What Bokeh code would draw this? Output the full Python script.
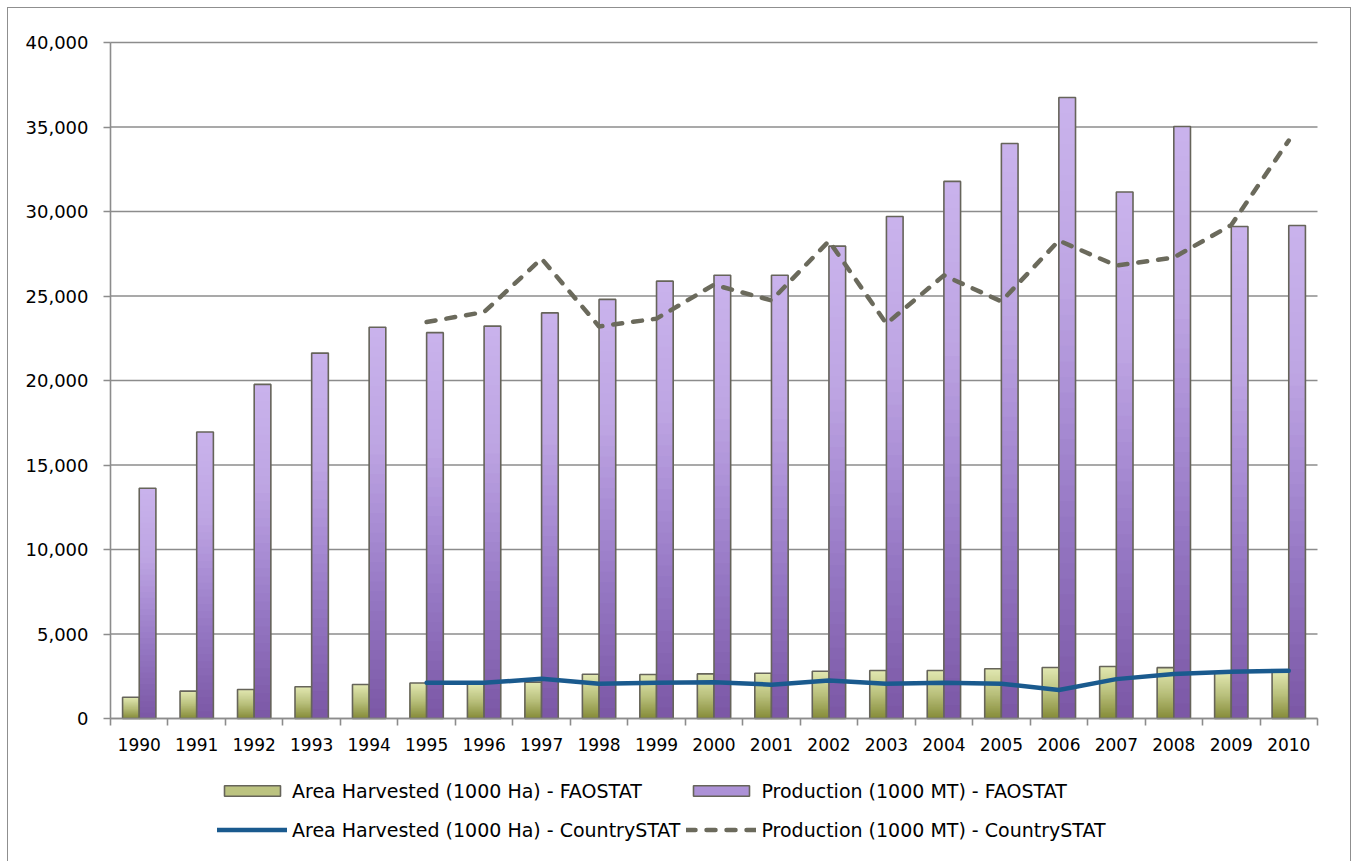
import numpy as np
from bokeh.plotting import figure
from bokeh.models import (ColumnDataSource, Range1d, FixedTicker, NumeralTickFormatter,
                          Legend, LegendItem, InlineStyleSheet)
from bokeh.embed import file_html
from bokeh.resources import INLINE

# ---- data -------------------------------------------------------------
years = list(range(1990, 2011))
area_fao = [1260, 1620, 1720, 1880, 2010, 2100, 2080, 2150, 2620, 2600, 2640,
            2680, 2800, 2840, 2840, 2940, 3020, 3080, 3010, 2750, 2790]
prod_fao = [13620, 16950, 19770, 21620, 23150, 22830, 23220, 24000, 24800, 25880, 26230,
            26230, 27950, 29700, 31780, 34020, 36750, 31150, 35030, 29110, 29170]

cs_years = list(range(1995, 2011))
area_cs = [2110, 2110, 2350, 2060, 2110, 2150, 2000, 2250, 2060, 2110, 2060,
           1690, 2330, 2630, 2770, 2830]
prod_cs = [23460, 24050, 27210, 23200, 23660, 25670, 24740, 28250, 23360, 26220, 24680,
           28280, 26800, 27280, 29200, 34200]

y_ticks = [0, 5000, 10000, 15000, 20000, 25000, 30000, 35000, 40000]

labels = ["Area Harvested (1000 Ha) - FAOSTAT", "Production (1000 MT) - FAOSTAT",
          "Area Harvested (1000 Ha) - CountrySTAT", "Production (1000 MT) - CountrySTAT"]

# ---- layout (pixels) ----------------------------------------------------
W, H = 1351, 861
PLOT_L, PLOT_R, PLOT_T, PLOT_B = 110, 1317, 42, 718   # value area inside the canvas

FONT = "DejaVu Sans"
BAR_W = 0.29
N_STEPS = 40
LEGEND_INDEX = 18

green_stops = [(0.0, "#858b38"), (0.5, "#b9c07c"), (1.0, "#e2e8b2")]
purple_stops = [(0.0, "#7b57a5"), (0.3, "#9476c2"), (0.5, "#a98dd4"),
                (0.7, "#bea5e3"), (1.0, "#c9b3ec")]


def _rgb(h):
    h = h.lstrip("#")
    return np.array([int(h[i:i + 2], 16) for i in (0, 2, 4)], dtype=float)


def ramp(stops, t):
    pos = [s[0] for s in stops]
    cols = np.array([_rgb(s[1]) for s in stops])
    out = [np.interp(t, pos, cols[:, c]) for c in range(3)]
    return "#%02x%02x%02x" % tuple(int(round(v)) for v in out)


def gradient_source(xs, values, stops):
    """Overlapping rectangles, tallest (lightest) first, shading each bar top to bottom."""
    left, right, top, color = [], [], [], []
    for x, v in zip(xs, values):
        for k in range(N_STEPS):
            frac_top = (N_STEPS - k) / N_STEPS
            t = (N_STEPS - k - 0.5) / N_STEPS
            left.append(x - BAR_W / 2)
            right.append(x + BAR_W / 2)
            top.append(v * frac_top)
            color.append(ramp(stops, t))
    return ColumnDataSource(dict(left=left, right=right, top=top,
                                 bottom=[0] * len(top), color=color))


# value ranges of the category / value area, stretched so the frame fills the canvas
x_lo, x_hi = years[0] - 0.5, years[-1] + 0.5
y_lo, y_hi = y_ticks[0], y_ticks[-1]
sx = (PLOT_R - PLOT_L) / (x_hi - x_lo)
sy = (PLOT_B - PLOT_T) / (y_hi - y_lo)
x_range = Range1d(x_lo - PLOT_L / sx, x_hi + (W - PLOT_R) / sx)
y_range = Range1d(y_lo - (H - PLOT_B) / sy, y_hi + PLOT_T / sy)

# thin grey frame around the whole chart, painted on the page behind the canvas
chart_frame_css = InlineStyleSheet(css="""
:host {
  background:
    linear-gradient(#8f8f8f, #8f8f8f) 7px 7px / 1344px 1px no-repeat,
    linear-gradient(#8f8f8f, #8f8f8f) 7px 7px / 1px 900px no-repeat,
    linear-gradient(#8f8f8f, #8f8f8f) 1350px 7px / 1px 900px no-repeat,
    #ffffff;
}
""")

p = figure(width=W, height=H, output_backend="svg", toolbar_location=None,
           x_range=x_range, y_range=y_range, min_border=0,
           min_border_left=0, min_border_right=0, min_border_top=0, min_border_bottom=0,
           background_fill_color=None, border_fill_color=None)
p.stylesheets = [chart_frame_css]
p.outline_line_color = None
p.xgrid.visible = False
p.ygrid.visible = False

# horizontal grid lines across the category span
p.segment(x0=[x_lo] * len(y_ticks), x1=[x_hi] * len(y_ticks), y0=y_ticks, y1=y_ticks,
          line_color="#8c8c8c", line_width=1.6)

# ---- bars ---------------------------------------------------------------
green_x = [y - BAR_W / 2 for y in years]
purple_x = [y + BAR_W / 2 for y in years]

g_src = gradient_source(green_x, area_fao, green_stops)
p_src = gradient_source(purple_x, prod_fao, purple_stops)

g_fill = p.quad(left="left", right="right", top="top", bottom="bottom", source=g_src,
                fill_color="color", line_color=None)
g_edge = p.vbar(x=green_x, top=area_fao, width=BAR_W, fill_color=None,
                line_color="#66645a", line_width=1.6)
pu_fill = p.quad(left="left", right="right", top="top", bottom="bottom", source=p_src,
                 fill_color="color", line_color=None)
pu_edge = p.vbar(x=purple_x, top=prod_fao, width=BAR_W, fill_color=None,
                 line_color="#66645a", line_width=1.6)

# ---- lines --------------------------------------------------------------
area_line = p.line(cs_years, area_cs, line_color="#1a5a8e", line_width=4.5,
                   line_join="round", line_cap="round")
prod_line = p.line(cs_years, prod_cs, line_color="#6b6a5c", line_width=4.5,
                   line_dash="9 11", line_cap="round", line_join="round")

# ---- axes (pinned to the value area) -----------------------------------
p.yaxis.fixed_location = x_lo
p.yaxis.bounds = (y_lo, y_hi)
p.yaxis.ticker = FixedTicker(ticks=y_ticks)
p.yaxis.formatter = NumeralTickFormatter(format="0,0")
p.yaxis.major_tick_out = 7
p.yaxis.major_tick_in = 0
p.yaxis.minor_tick_out = 0
p.yaxis.major_label_standoff = 15
p.yaxis.axis_line_color = "#8c8c8c"
p.yaxis.axis_line_width = 1.6
p.yaxis.major_tick_line_color = "#8c8c8c"
p.yaxis.major_tick_line_width = 1.6
p.yaxis.major_label_text_font = FONT
p.yaxis.major_label_text_font_size = "18px"
p.yaxis.major_label_text_color = "#000000"

p.xaxis.fixed_location = y_lo
p.xaxis.bounds = (x_lo, x_hi)
p.xaxis.ticker = FixedTicker(ticks=years, minor_ticks=[y - 0.5 for y in years] + [x_hi])
p.xaxis.major_tick_out = 0
p.xaxis.major_tick_in = 0
p.xaxis.minor_tick_out = 7
p.xaxis.minor_tick_in = 0
p.xaxis.minor_tick_line_color = "#8c8c8c"
p.xaxis.minor_tick_line_width = 1.6
p.xaxis.axis_line_color = "#8c8c8c"
p.xaxis.axis_line_width = 1.6
p.xaxis.major_label_standoff = 12
p.xaxis.major_label_text_font = FONT
p.xaxis.major_label_text_font_size = "17px"
p.xaxis.major_label_text_color = "#000000"

# ---- legend (two columns under the axis) -------------------------------
legend = Legend(items=[
    LegendItem(label=labels[0], renderers=[g_fill, g_edge], index=LEGEND_INDEX),
    LegendItem(label=labels[2], renderers=[area_line]),
    LegendItem(label=labels[1], renderers=[pu_fill, pu_edge], index=LEGEND_INDEX),
    LegendItem(label=labels[3], renderers=[prod_line]),
], ncols=2, location=(217, 15))
legend.glyph_width = 70
legend.glyph_height = 13
legend.label_standoff = 5
legend.label_height = 33
legend.spacing = 6
legend.padding = 0
legend.margin = 0
legend.border_line_color = None
legend.background_fill_alpha = 0
legend.label_text_font = FONT
legend.label_text_font_size = "19px"
legend.label_text_color = "#000000"
p.add_layout(legend)

open("out.html", "w").write(file_html(p, INLINE))
